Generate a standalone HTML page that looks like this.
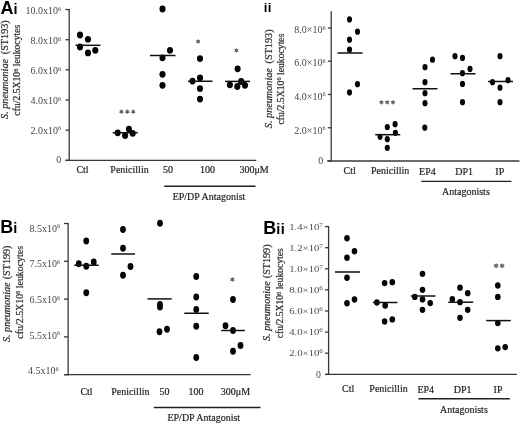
<!DOCTYPE html>
<html><head><meta charset="utf-8"><style>
html,body{margin:0;padding:0;background:#fff;width:520px;height:424px;overflow:hidden}
svg{display:block;font-family:"Liberation Serif",serif;will-change:transform;filter:blur(0.3px)}
text{stroke:#333;stroke-width:0.22px}
</style></head><body>
<svg width="520" height="424" viewBox="0 0 520 424">
<rect width="520" height="424" fill="#fff"/>
<text x="0.6" y="13.7" font-weight="bold" font-family="Liberation Sans" fill="#000" style="stroke:none"><tspan font-size="18">A</tspan><tspan font-size="14.5" letter-spacing="0.3">i</tspan></text>
<line x1="69.20" y1="8.95" x2="69.20" y2="160.90" stroke="#383838" stroke-width="1.3"/>
<line x1="65.50" y1="160.30" x2="256.30" y2="160.30" stroke="#383838" stroke-width="1.3"/>
<line x1="65.50" y1="160.30" x2="69.20" y2="160.30" stroke="#383838" stroke-width="1.3"/>
<line x1="65.50" y1="130.15" x2="69.20" y2="130.15" stroke="#383838" stroke-width="1.3"/>
<line x1="65.50" y1="100.00" x2="69.20" y2="100.00" stroke="#383838" stroke-width="1.3"/>
<line x1="65.50" y1="69.85" x2="69.20" y2="69.85" stroke="#383838" stroke-width="1.3"/>
<line x1="65.50" y1="39.70" x2="69.20" y2="39.70" stroke="#383838" stroke-width="1.3"/>
<line x1="65.50" y1="9.55" x2="69.20" y2="9.55" stroke="#383838" stroke-width="1.3"/>
<text x="61.20" y="163.40" font-size="10" text-anchor="end" fill="#474747" style="stroke:none">0</text>
<text x="61.00" y="133.60" font-size="10" text-anchor="end" fill="#474747" style="stroke:none">2.0x10<tspan font-size="6.2" dy="-3.3">6</tspan></text>
<text x="61.00" y="103.80" font-size="10" text-anchor="end" fill="#474747" style="stroke:none">4.0x10<tspan font-size="6.2" dy="-3.3">6</tspan></text>
<text x="61.00" y="74.00" font-size="10" text-anchor="end" fill="#474747" style="stroke:none">6.0x10<tspan font-size="6.2" dy="-3.3">6</tspan></text>
<text x="61.00" y="44.20" font-size="10" text-anchor="end" fill="#474747" style="stroke:none">8.0x10<tspan font-size="6.2" dy="-3.3">6</tspan></text>
<text x="61.00" y="14.40" font-size="10" text-anchor="end" fill="#474747" style="stroke:none">10.0x10<tspan font-size="6.2" dy="-3.3">6</tspan></text>
<text transform="translate(8.2,69.6) rotate(-90)" font-size="10.2" text-anchor="middle" fill="#2e2e2e"><tspan font-style="italic">S. pneumoniae</tspan><tspan dx="2.2"> (ST193)</tspan></text>
<text transform="translate(20.2,70.2) rotate(-90)" font-size="9.7" text-anchor="middle" fill="#2e2e2e">cfu/2.5X10<tspan font-size="6.40" dy="-2.7">6</tspan><tspan dy="2.7"> leukocytes</tspan></text>
<text x="82.50" y="172.80" font-size="10" text-anchor="middle" fill="#1c1c1c" >Ctl</text>
<text x="129.50" y="172.80" font-size="10" text-anchor="middle" fill="#1c1c1c" >Penicillin</text>
<text x="168.10" y="172.80" font-size="10" text-anchor="middle" fill="#1c1c1c" >50</text>
<text x="207.50" y="172.80" font-size="10" text-anchor="middle" fill="#1c1c1c" >100</text>
<text x="254.10" y="172.80" font-size="10" text-anchor="middle" fill="#1c1c1c" >300μM</text>
<line x1="164.25" y1="186.25" x2="255.50" y2="186.25" stroke="#222" stroke-width="1.4"/>
<text x="209.00" y="199.80" font-size="10" text-anchor="middle" fill="#1c1c1c" >EP/DP Antagonist</text>
<ellipse cx="80" cy="35.00" rx="3.05" ry="3.4" fill="#050505"/>
<ellipse cx="88" cy="39.30" rx="3.05" ry="3.4" fill="#050505"/>
<ellipse cx="80" cy="47.00" rx="3.05" ry="3.4" fill="#050505"/>
<ellipse cx="88" cy="52.90" rx="3.05" ry="3.4" fill="#050505"/>
<ellipse cx="95.3" cy="50.30" rx="3.05" ry="3.4" fill="#050505"/>
<line x1="75.50" y1="45.30" x2="100.50" y2="45.30" stroke="#111" stroke-width="1.5"/>
<ellipse cx="117.7" cy="132.80" rx="3.05" ry="3.4" fill="#050505"/>
<ellipse cx="125.1" cy="135.60" rx="3.05" ry="3.4" fill="#050505"/>
<ellipse cx="128.9" cy="129.10" rx="3.05" ry="3.4" fill="#050505"/>
<ellipse cx="132.7" cy="133.30" rx="3.05" ry="3.4" fill="#050505"/>
<line x1="112.70" y1="132.70" x2="137.70" y2="132.70" stroke="#111" stroke-width="1.5"/>
<polygon points="121.40,109.10 122.12,110.44 123.65,110.40 122.85,111.70 123.65,113.00 122.12,112.96 121.40,114.30 120.67,112.96 119.15,113.00 119.95,111.70 119.15,110.40 120.67,110.44" fill="#626262"/>
<polygon points="127.30,109.10 128.03,110.44 129.55,110.40 128.75,111.70 129.55,113.00 128.03,112.96 127.30,114.30 126.58,112.96 125.05,113.00 125.85,111.70 125.05,110.40 126.58,110.44" fill="#626262"/>
<polygon points="133.20,109.10 133.92,110.44 135.45,110.40 134.65,111.70 135.45,113.00 133.92,112.96 133.20,114.30 132.47,112.96 130.95,113.00 131.75,111.70 130.95,110.40 132.47,110.44" fill="#626262"/>
<ellipse cx="162.5" cy="9.00" rx="3.05" ry="3.4" fill="#050505"/>
<ellipse cx="170" cy="50.30" rx="3.05" ry="3.4" fill="#050505"/>
<ellipse cx="162.5" cy="57.80" rx="3.05" ry="3.4" fill="#050505"/>
<ellipse cx="162.5" cy="74.30" rx="3.05" ry="3.4" fill="#050505"/>
<ellipse cx="162.5" cy="85.30" rx="3.05" ry="3.4" fill="#050505"/>
<line x1="150.00" y1="55.50" x2="175.50" y2="55.50" stroke="#111" stroke-width="1.5"/>
<ellipse cx="200" cy="58.55" rx="3.05" ry="3.4" fill="#050505"/>
<ellipse cx="200" cy="77.80" rx="3.05" ry="3.4" fill="#050505"/>
<ellipse cx="192.5" cy="81.05" rx="3.05" ry="3.4" fill="#050505"/>
<ellipse cx="200" cy="88.55" rx="3.05" ry="3.4" fill="#050505"/>
<ellipse cx="200" cy="99.05" rx="3.05" ry="3.4" fill="#050505"/>
<line x1="188.00" y1="81.25" x2="212.50" y2="81.25" stroke="#111" stroke-width="1.5"/>
<polygon points="198.10,38.80 198.82,40.14 200.35,40.10 199.55,41.40 200.35,42.70 198.82,42.66 198.10,44.00 197.38,42.66 195.85,42.70 196.65,41.40 195.85,40.10 197.38,40.14" fill="#626262"/>
<ellipse cx="237.6" cy="68.80" rx="3.05" ry="3.4" fill="#050505"/>
<ellipse cx="229.9" cy="84.80" rx="3.05" ry="3.4" fill="#050505"/>
<ellipse cx="237.3" cy="86.50" rx="3.05" ry="3.4" fill="#050505"/>
<ellipse cx="241.2" cy="81.50" rx="3.05" ry="3.4" fill="#050505"/>
<ellipse cx="245" cy="85.30" rx="3.05" ry="3.4" fill="#050505"/>
<line x1="225.00" y1="81.40" x2="250.00" y2="81.40" stroke="#111" stroke-width="1.5"/>
<polygon points="236.40,47.80 237.12,49.14 238.65,49.10 237.85,50.40 238.65,51.70 237.12,51.66 236.40,53.00 235.68,51.66 234.15,51.70 234.95,50.40 234.15,49.10 235.68,49.14" fill="#626262"/>
<text x="263.7" y="11.8" font-weight="bold" font-family="Liberation Sans" fill="#000" style="stroke:none"><tspan font-size="13.2" letter-spacing="0.5">ii</tspan></text>
<line x1="331.20" y1="11.25" x2="331.20" y2="161.60" stroke="#383838" stroke-width="1.3"/>
<line x1="327.20" y1="161.00" x2="519.40" y2="161.00" stroke="#383838" stroke-width="1.3"/>
<line x1="327.80" y1="161.00" x2="331.20" y2="161.00" stroke="#383838" stroke-width="1.3"/>
<line x1="327.80" y1="127.75" x2="331.20" y2="127.75" stroke="#383838" stroke-width="1.3"/>
<line x1="327.80" y1="94.50" x2="331.20" y2="94.50" stroke="#383838" stroke-width="1.3"/>
<line x1="327.80" y1="61.25" x2="331.20" y2="61.25" stroke="#383838" stroke-width="1.3"/>
<line x1="327.80" y1="28.00" x2="331.20" y2="28.00" stroke="#383838" stroke-width="1.3"/>
<text x="323.30" y="164.30" font-size="10" text-anchor="end" fill="#474747" style="stroke:none">0</text>
<text x="325.50" y="133.50" font-size="10" text-anchor="end" fill="#474747" style="stroke:none">2.0×10<tspan font-size="6.2" dy="-3.3">6</tspan></text>
<text x="325.50" y="99.60" font-size="10" text-anchor="end" fill="#474747" style="stroke:none">4.0×10<tspan font-size="6.2" dy="-3.3">6</tspan></text>
<text x="325.50" y="66.40" font-size="10" text-anchor="end" fill="#474747" style="stroke:none">6.0×10<tspan font-size="6.2" dy="-3.3">6</tspan></text>
<text x="325.50" y="33.10" font-size="10" text-anchor="end" fill="#474747" style="stroke:none">8.0×10<tspan font-size="6.2" dy="-3.3">6</tspan></text>
<text transform="translate(271.8,78.8) rotate(-90)" font-size="10.2" text-anchor="middle" fill="#2e2e2e"><tspan font-style="italic">S. pneumoniae</tspan><tspan dx="2.2"> (ST193)</tspan></text>
<text transform="translate(283.7,79.0) rotate(-90)" font-size="9.7" text-anchor="middle" fill="#2e2e2e">cfu/2.5X10<tspan font-size="6.40" dy="-2.7">6</tspan><tspan dy="2.7"> leukocytes</tspan></text>
<text x="349.60" y="174.30" font-size="10" text-anchor="middle" fill="#1c1c1c" >Ctl</text>
<text x="390.20" y="174.30" font-size="10" text-anchor="middle" fill="#1c1c1c" >Penicillin</text>
<text x="427.40" y="175.20" font-size="10" text-anchor="middle" fill="#1c1c1c" >EP4</text>
<text x="464.20" y="175.20" font-size="10" text-anchor="middle" fill="#1c1c1c" >DP1</text>
<text x="499.80" y="175.20" font-size="10" text-anchor="middle" fill="#1c1c1c" >IP</text>
<line x1="421.30" y1="181.40" x2="511.30" y2="181.40" stroke="#222" stroke-width="1.4"/>
<text x="465.90" y="195.10" font-size="10" text-anchor="middle" fill="#1c1c1c" >Antagonists</text>
<ellipse cx="349.5" cy="19.40" rx="2.55" ry="3.1" fill="#050505"/>
<ellipse cx="357.5" cy="31.65" rx="2.55" ry="3.1" fill="#050505"/>
<ellipse cx="349.5" cy="39.65" rx="2.55" ry="3.1" fill="#050505"/>
<ellipse cx="349.5" cy="49.65" rx="2.55" ry="3.1" fill="#050505"/>
<ellipse cx="357.5" cy="84.15" rx="2.55" ry="3.1" fill="#050505"/>
<ellipse cx="349.5" cy="92.40" rx="2.55" ry="3.1" fill="#050505"/>
<line x1="337.50" y1="53.00" x2="362.50" y2="53.00" stroke="#111" stroke-width="1.5"/>
<ellipse cx="387.3" cy="127.05" rx="2.55" ry="3.1" fill="#050505"/>
<ellipse cx="395.1" cy="124.15" rx="2.55" ry="3.1" fill="#050505"/>
<ellipse cx="380.1" cy="136.85" rx="2.55" ry="3.1" fill="#050505"/>
<ellipse cx="395.4" cy="132.85" rx="2.55" ry="3.1" fill="#050505"/>
<ellipse cx="387.3" cy="139.15" rx="2.55" ry="3.1" fill="#050505"/>
<ellipse cx="387.3" cy="147.85" rx="2.55" ry="3.1" fill="#050505"/>
<line x1="375.20" y1="134.70" x2="400.30" y2="134.70" stroke="#111" stroke-width="1.5"/>
<polygon points="381.40,99.70 382.12,101.04 383.65,101.00 382.85,102.30 383.65,103.60 382.12,103.56 381.40,104.90 380.67,103.56 379.15,103.60 379.95,102.30 379.15,101.00 380.67,101.04" fill="#626262"/>
<polygon points="387.20,99.70 387.93,101.04 389.45,101.00 388.65,102.30 389.45,103.60 387.93,103.56 387.20,104.90 386.47,103.56 384.95,103.60 385.75,102.30 384.95,101.00 386.47,101.04" fill="#626262"/>
<polygon points="393.00,99.70 393.73,101.04 395.25,101.00 394.45,102.30 395.25,103.60 393.73,103.56 393.00,104.90 392.27,103.56 390.75,103.60 391.55,102.30 390.75,101.00 392.27,101.04" fill="#626262"/>
<ellipse cx="432.5" cy="59.65" rx="2.55" ry="3.1" fill="#050505"/>
<ellipse cx="425" cy="67.15" rx="2.55" ry="3.1" fill="#050505"/>
<ellipse cx="425" cy="82.15" rx="2.55" ry="3.1" fill="#050505"/>
<ellipse cx="425" cy="93.15" rx="2.55" ry="3.1" fill="#050505"/>
<ellipse cx="425" cy="103.15" rx="2.55" ry="3.1" fill="#050505"/>
<ellipse cx="424.8" cy="127.65" rx="2.55" ry="3.1" fill="#050505"/>
<line x1="412.50" y1="88.75" x2="437.50" y2="88.75" stroke="#111" stroke-width="1.5"/>
<ellipse cx="455" cy="56.15" rx="2.55" ry="3.1" fill="#050505"/>
<ellipse cx="462.5" cy="57.90" rx="2.55" ry="3.1" fill="#050505"/>
<ellipse cx="470" cy="68.90" rx="2.55" ry="3.1" fill="#050505"/>
<ellipse cx="462.5" cy="73.15" rx="2.55" ry="3.1" fill="#050505"/>
<ellipse cx="462.5" cy="83.90" rx="2.55" ry="3.1" fill="#050505"/>
<ellipse cx="462.5" cy="102.15" rx="2.55" ry="3.1" fill="#050505"/>
<line x1="450.50" y1="73.75" x2="475.50" y2="73.75" stroke="#111" stroke-width="1.5"/>
<ellipse cx="500" cy="56.15" rx="2.55" ry="3.1" fill="#050505"/>
<ellipse cx="492.5" cy="82.15" rx="2.55" ry="3.1" fill="#050505"/>
<ellipse cx="508" cy="80.15" rx="2.55" ry="3.1" fill="#050505"/>
<ellipse cx="500" cy="87.65" rx="2.55" ry="3.1" fill="#050505"/>
<ellipse cx="500" cy="102.15" rx="2.55" ry="3.1" fill="#050505"/>
<line x1="488.00" y1="81.50" x2="513.00" y2="81.50" stroke="#111" stroke-width="1.5"/>
<text x="0.15" y="232.9" font-weight="bold" font-family="Liberation Sans" fill="#000" style="stroke:none"><tspan font-size="18">B</tspan><tspan font-size="14.5" letter-spacing="0.3">i</tspan></text>
<line x1="68.10" y1="222.90" x2="68.10" y2="375.30" stroke="#383838" stroke-width="1.3"/>
<line x1="64.00" y1="374.70" x2="250.75" y2="374.70" stroke="#383838" stroke-width="1.3"/>
<line x1="64.00" y1="374.70" x2="68.10" y2="374.70" stroke="#383838" stroke-width="1.3"/>
<line x1="64.00" y1="336.90" x2="68.10" y2="336.90" stroke="#383838" stroke-width="1.3"/>
<line x1="64.00" y1="299.10" x2="68.10" y2="299.10" stroke="#383838" stroke-width="1.3"/>
<line x1="64.00" y1="261.30" x2="68.10" y2="261.30" stroke="#383838" stroke-width="1.3"/>
<line x1="64.00" y1="223.50" x2="68.10" y2="223.50" stroke="#383838" stroke-width="1.3"/>
<text x="60.00" y="338.65" font-size="10" text-anchor="end" fill="#474747" style="stroke:none">5.5x10<tspan font-size="6.2" dy="-3.3">6</tspan></text>
<text x="60.00" y="303.00" font-size="10" text-anchor="end" fill="#474747" style="stroke:none">6.5x10<tspan font-size="6.2" dy="-3.3">6</tspan></text>
<text x="60.00" y="267.35" font-size="10" text-anchor="end" fill="#474747" style="stroke:none">7.5x10<tspan font-size="6.2" dy="-3.3">6</tspan></text>
<text x="60.00" y="231.70" font-size="10" text-anchor="end" fill="#474747" style="stroke:none">8.5x10<tspan font-size="6.2" dy="-3.3">6</tspan></text>
<text x="58.60" y="374.30" font-size="10" text-anchor="end" fill="#474747" style="stroke:none">4.5x10<tspan font-size="6.2" dy="-3.3">6</tspan></text>
<text transform="translate(9.9,293.8) rotate(-90)" font-size="10.15" text-anchor="middle" fill="#2e2e2e"><tspan font-style="italic">S. pneumoniae</tspan><tspan dx="0.6"> (ST199)</tspan></text>
<text transform="translate(22.6,292.3) rotate(-90)" font-size="9.9" text-anchor="middle" fill="#2e2e2e">cfu/2.5X10<tspan font-size="6.53" dy="-2.7">6</tspan><tspan dy="2.7"> leukocytes</tspan></text>
<text x="86.50" y="394.50" font-size="10" text-anchor="middle" fill="#1c1c1c" >Ctl</text>
<text x="130.30" y="394.50" font-size="10" text-anchor="middle" fill="#1c1c1c" >Penicillin</text>
<text x="164.40" y="394.50" font-size="10" text-anchor="middle" fill="#1c1c1c" >50</text>
<text x="196.00" y="394.50" font-size="10" text-anchor="middle" fill="#1c1c1c" >100</text>
<text x="235.40" y="394.50" font-size="10" text-anchor="middle" fill="#1c1c1c" >300μM</text>
<line x1="153.75" y1="407.50" x2="260.50" y2="407.50" stroke="#222" stroke-width="1.4"/>
<text x="203.80" y="420.50" font-size="10" text-anchor="middle" fill="#1c1c1c" >EP/DP Antagonist</text>
<ellipse cx="86.25" cy="241.00" rx="2.9" ry="3.4" fill="#050505"/>
<ellipse cx="78.75" cy="263.75" rx="2.9" ry="3.4" fill="#050505"/>
<ellipse cx="86.25" cy="266.25" rx="2.9" ry="3.4" fill="#050505"/>
<ellipse cx="93.75" cy="262.00" rx="2.9" ry="3.4" fill="#050505"/>
<ellipse cx="86.25" cy="292.75" rx="2.9" ry="3.4" fill="#050505"/>
<line x1="74.25" y1="265.25" x2="98.75" y2="265.25" stroke="#111" stroke-width="1.5"/>
<ellipse cx="123" cy="229.50" rx="2.9" ry="3.4" fill="#050505"/>
<ellipse cx="123" cy="248.25" rx="2.9" ry="3.4" fill="#050505"/>
<ellipse cx="130.5" cy="266.50" rx="2.9" ry="3.4" fill="#050505"/>
<ellipse cx="123" cy="275.25" rx="2.9" ry="3.4" fill="#050505"/>
<line x1="111.25" y1="254.00" x2="135.00" y2="254.00" stroke="#111" stroke-width="1.5"/>
<ellipse cx="160" cy="223.25" rx="2.9" ry="3.4" fill="#050505"/>
<ellipse cx="160" cy="304.50" rx="2.9" ry="3.4" fill="#050505"/>
<ellipse cx="160" cy="307.00" rx="2.9" ry="3.4" fill="#050505"/>
<ellipse cx="159.5" cy="331.75" rx="2.9" ry="3.4" fill="#050505"/>
<ellipse cx="167" cy="329.25" rx="2.9" ry="3.4" fill="#050505"/>
<line x1="147.50" y1="298.90" x2="171.75" y2="298.90" stroke="#111" stroke-width="1.5"/>
<ellipse cx="196.25" cy="276.50" rx="2.9" ry="3.4" fill="#050505"/>
<ellipse cx="196.25" cy="297.00" rx="2.9" ry="3.4" fill="#050505"/>
<ellipse cx="196.25" cy="309.50" rx="2.9" ry="3.4" fill="#050505"/>
<ellipse cx="196.25" cy="326.25" rx="2.9" ry="3.4" fill="#050505"/>
<ellipse cx="196.25" cy="357.50" rx="2.9" ry="3.4" fill="#050505"/>
<line x1="184.30" y1="313.25" x2="208.75" y2="313.25" stroke="#111" stroke-width="1.5"/>
<ellipse cx="233" cy="299.50" rx="2.9" ry="3.4" fill="#050505"/>
<ellipse cx="225.5" cy="325.75" rx="2.9" ry="3.4" fill="#050505"/>
<ellipse cx="233" cy="330.50" rx="2.9" ry="3.4" fill="#050505"/>
<ellipse cx="240.5" cy="345.50" rx="2.9" ry="3.4" fill="#050505"/>
<ellipse cx="233" cy="351.25" rx="2.9" ry="3.4" fill="#050505"/>
<line x1="221.25" y1="330.50" x2="245.00" y2="330.50" stroke="#111" stroke-width="1.5"/>
<polygon points="232.40,276.70 233.12,278.24 234.82,278.10 233.85,279.50 234.82,280.90 233.12,280.76 232.40,282.30 231.68,280.76 229.98,280.90 230.95,279.50 229.98,278.10 231.68,278.24" fill="#626262"/>
<text x="263.2" y="233.7" font-weight="bold" font-family="Liberation Sans" fill="#000" style="stroke:none"><tspan font-size="18">B</tspan><tspan font-size="14.5" letter-spacing="0.6">ii</tspan></text>
<line x1="328.60" y1="226.00" x2="328.60" y2="374.90" stroke="#383838" stroke-width="1.3"/>
<line x1="325.75" y1="374.30" x2="516.90" y2="374.30" stroke="#383838" stroke-width="1.3"/>
<line x1="325.00" y1="374.30" x2="328.60" y2="374.30" stroke="#383838" stroke-width="1.3"/>
<line x1="325.00" y1="353.20" x2="328.60" y2="353.20" stroke="#383838" stroke-width="1.3"/>
<line x1="325.00" y1="332.10" x2="328.60" y2="332.10" stroke="#383838" stroke-width="1.3"/>
<line x1="325.00" y1="311.00" x2="328.60" y2="311.00" stroke="#383838" stroke-width="1.3"/>
<line x1="325.00" y1="289.90" x2="328.60" y2="289.90" stroke="#383838" stroke-width="1.3"/>
<line x1="325.00" y1="268.80" x2="328.60" y2="268.80" stroke="#383838" stroke-width="1.3"/>
<line x1="325.00" y1="247.70" x2="328.60" y2="247.70" stroke="#383838" stroke-width="1.3"/>
<line x1="325.00" y1="226.60" x2="328.60" y2="226.60" stroke="#383838" stroke-width="1.3"/>
<text x="321.00" y="378.10" font-size="9.8" text-anchor="end" fill="#474747" style="stroke:none">0</text>
<text x="0.00" y="0.00" transform="translate(322.90,356.40) scale(1.22,1)" font-size="8.8" text-anchor="end" fill="#474747" style="stroke:none">2.0×10<tspan font-size="5.8" dy="-3.0">6</tspan></text>
<text x="0.00" y="0.00" transform="translate(322.90,335.30) scale(1.22,1)" font-size="8.8" text-anchor="end" fill="#474747" style="stroke:none">4.0×10<tspan font-size="5.8" dy="-3.0">6</tspan></text>
<text x="0.00" y="0.00" transform="translate(322.90,314.20) scale(1.22,1)" font-size="8.8" text-anchor="end" fill="#474747" style="stroke:none">6.0×10<tspan font-size="5.8" dy="-3.0">6</tspan></text>
<text x="0.00" y="0.00" transform="translate(322.90,293.10) scale(1.22,1)" font-size="8.8" text-anchor="end" fill="#474747" style="stroke:none">8.0×10<tspan font-size="5.8" dy="-3.0">6</tspan></text>
<text x="0.00" y="0.00" transform="translate(322.90,272.00) scale(1.22,1)" font-size="8.8" text-anchor="end" fill="#474747" style="stroke:none">1.0×10<tspan font-size="5.8" dy="-3.0">7</tspan></text>
<text x="0.00" y="0.00" transform="translate(322.90,250.90) scale(1.22,1)" font-size="8.8" text-anchor="end" fill="#474747" style="stroke:none">1.2×10<tspan font-size="5.8" dy="-3.0">7</tspan></text>
<text x="0.00" y="0.00" transform="translate(322.90,229.80) scale(1.22,1)" font-size="8.8" text-anchor="end" fill="#474747" style="stroke:none">1.4×10<tspan font-size="5.8" dy="-3.0">7</tspan></text>
<text transform="translate(270.1,292.7) rotate(-90)" font-size="10.15" text-anchor="middle" fill="#2e2e2e"><tspan font-style="italic">S. pneumoniae</tspan><tspan dx="0.6"> (ST199)</tspan></text>
<text transform="translate(283.2,293.3) rotate(-90)" font-size="9.6" text-anchor="middle" fill="#2e2e2e">cfu/2.5X10<tspan font-size="6.34" dy="-2.7">6</tspan><tspan dy="2.7"> leukocytes</tspan></text>
<text x="348.10" y="391.70" font-size="10" text-anchor="middle" fill="#1c1c1c" >Ctl</text>
<text x="388.50" y="391.70" font-size="10" text-anchor="middle" fill="#1c1c1c" >Penicillin</text>
<text x="425.80" y="393.30" font-size="10" text-anchor="middle" fill="#1c1c1c" >EP4</text>
<text x="462.60" y="393.30" font-size="10" text-anchor="middle" fill="#1c1c1c" >DP1</text>
<text x="498.00" y="393.30" font-size="10" text-anchor="middle" fill="#1c1c1c" >IP</text>
<line x1="418.50" y1="398.80" x2="509.80" y2="398.80" stroke="#222" stroke-width="1.4"/>
<text x="463.90" y="413.10" font-size="10" text-anchor="middle" fill="#1c1c1c" >Antagonists</text>
<ellipse cx="347" cy="238.25" rx="2.8" ry="3.15" fill="#050505"/>
<ellipse cx="354.5" cy="251.25" rx="2.8" ry="3.15" fill="#050505"/>
<ellipse cx="347" cy="257.75" rx="2.8" ry="3.15" fill="#050505"/>
<ellipse cx="347" cy="277.75" rx="2.8" ry="3.15" fill="#050505"/>
<ellipse cx="354.5" cy="299.50" rx="2.8" ry="3.15" fill="#050505"/>
<ellipse cx="347" cy="303.25" rx="2.8" ry="3.15" fill="#050505"/>
<line x1="335.00" y1="272.00" x2="360.00" y2="272.00" stroke="#111" stroke-width="1.5"/>
<ellipse cx="384.6" cy="283.10" rx="2.8" ry="3.15" fill="#050505"/>
<ellipse cx="392.3" cy="282.20" rx="2.8" ry="3.15" fill="#050505"/>
<ellipse cx="376.9" cy="302.50" rx="2.8" ry="3.15" fill="#050505"/>
<ellipse cx="385.2" cy="305.50" rx="2.8" ry="3.15" fill="#050505"/>
<ellipse cx="384.6" cy="321.50" rx="2.8" ry="3.15" fill="#050505"/>
<ellipse cx="392.3" cy="319.40" rx="2.8" ry="3.15" fill="#050505"/>
<line x1="372.90" y1="302.50" x2="397.50" y2="302.50" stroke="#111" stroke-width="1.5"/>
<ellipse cx="422.5" cy="273.80" rx="2.8" ry="3.15" fill="#050505"/>
<ellipse cx="422.5" cy="289.80" rx="2.8" ry="3.15" fill="#050505"/>
<ellipse cx="414.8" cy="296.90" rx="2.8" ry="3.15" fill="#050505"/>
<ellipse cx="422.5" cy="299.40" rx="2.8" ry="3.15" fill="#050505"/>
<ellipse cx="430.2" cy="303.10" rx="2.8" ry="3.15" fill="#050505"/>
<ellipse cx="422.5" cy="309.80" rx="2.8" ry="3.15" fill="#050505"/>
<line x1="410.80" y1="296.00" x2="435.40" y2="296.00" stroke="#111" stroke-width="1.5"/>
<ellipse cx="460" cy="287.70" rx="2.8" ry="3.15" fill="#050505"/>
<ellipse cx="467.7" cy="293.20" rx="2.8" ry="3.15" fill="#050505"/>
<ellipse cx="452.3" cy="299.10" rx="2.8" ry="3.15" fill="#050505"/>
<ellipse cx="460" cy="302.20" rx="2.8" ry="3.15" fill="#050505"/>
<ellipse cx="467.7" cy="309.80" rx="2.8" ry="3.15" fill="#050505"/>
<ellipse cx="460" cy="317.80" rx="2.8" ry="3.15" fill="#050505"/>
<line x1="448.30" y1="302.20" x2="473.20" y2="302.20" stroke="#111" stroke-width="1.5"/>
<ellipse cx="497.8" cy="285.50" rx="2.8" ry="3.15" fill="#050505"/>
<ellipse cx="497.8" cy="296.90" rx="2.8" ry="3.15" fill="#050505"/>
<ellipse cx="497.8" cy="323.10" rx="2.8" ry="3.15" fill="#050505"/>
<ellipse cx="497.8" cy="348.30" rx="2.8" ry="3.15" fill="#050505"/>
<ellipse cx="505.2" cy="347.10" rx="2.8" ry="3.15" fill="#050505"/>
<line x1="486.20" y1="320.60" x2="510.80" y2="320.60" stroke="#111" stroke-width="1.5"/>
<polygon points="496.10,262.90 496.95,264.33 498.61,264.35 497.80,265.80 498.61,267.25 496.95,267.27 496.10,268.70 495.25,267.27 493.59,267.25 494.40,265.80 493.59,264.35 495.25,264.33" fill="#707070"/>
<polygon points="502.10,262.90 502.95,264.33 504.61,264.35 503.80,265.80 504.61,267.25 502.95,267.27 502.10,268.70 501.25,267.27 499.59,267.25 500.40,265.80 499.59,264.35 501.25,264.33" fill="#707070"/>
</svg>
</body></html>
